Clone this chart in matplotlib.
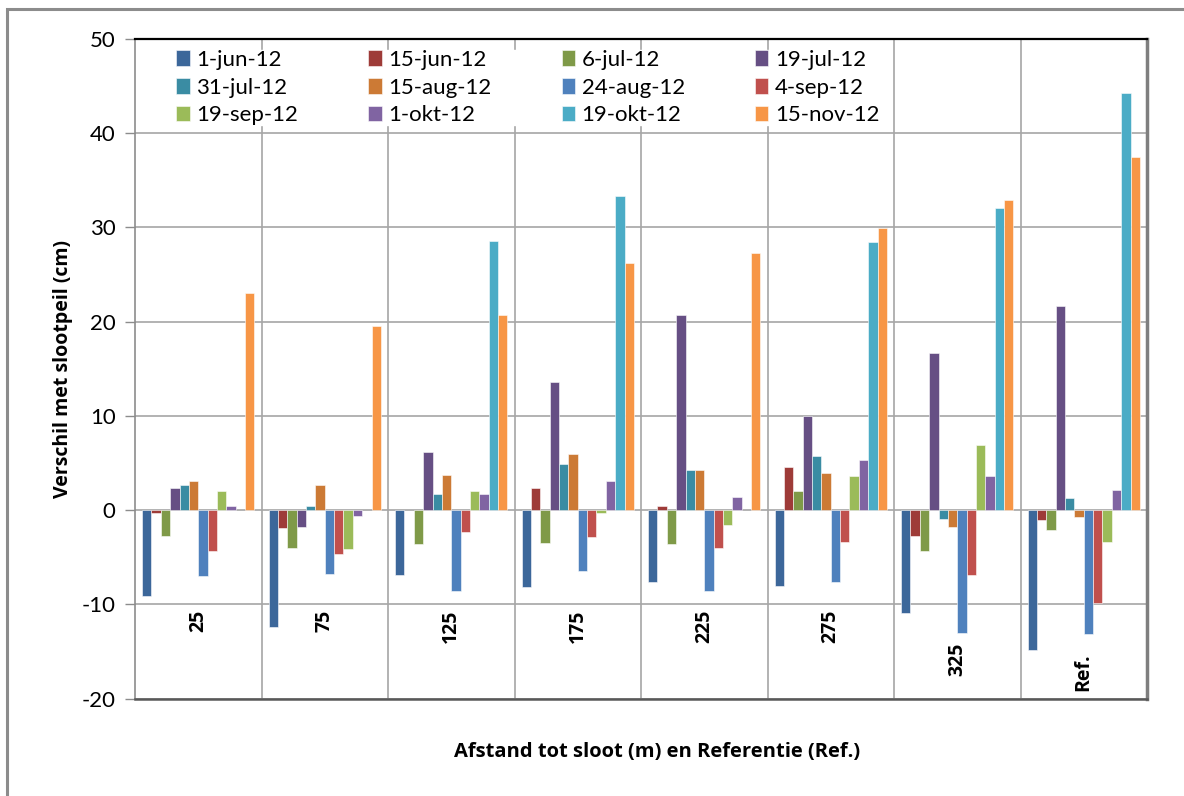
import numpy as np
import matplotlib
matplotlib.use("Agg")
from matplotlib import pyplot as plt
from matplotlib.patches import Rectangle

plt.rcParams['font.family'] = ['Lato', 'DejaVu Sans']
plt.rcParams['axes.unicode_minus'] = False

categories = ['25', '75', '125', '175', '225', '275', '325', 'Ref.']
dates = ['1-jun-12', '15-jun-12', '6-jul-12', '19-jul-12',
         '31-jul-12', '15-aug-12', '24-aug-12', '4-sep-12',
         '19-sep-12', '1-okt-12', '19-okt-12', '15-nov-12']

# verschil met slootpeil (cm) per meetdatum, per afstand
jun01 = [-9.1, -12.4, -6.9, -8.2, -7.6, -8.0, -10.9, -14.8]
jun15 = [-0.3, -1.9, np.nan, 2.4, 0.4, 4.6, -2.7, -1.0]
jul06 = [-2.7, -4.0, -3.6, -3.5, -3.6, 2.0, -4.3, -2.1]
jul19 = [2.3, -1.8, 6.2, 13.6, 20.7, 10.0, 16.7, 21.7]
jul31 = [2.7, 0.4, 1.7, 4.9, 4.3, 5.7, -0.9, 1.3]
aug15 = [3.1, 2.7, 3.7, 6.0, 4.3, 3.9, -1.8, -0.7]
aug24 = [-7.0, -6.8, -8.6, -6.5, -8.6, -7.6, -13.0, -13.1]
sep04 = [-4.3, -4.6, -2.3, -2.9, -4.0, -3.4, -6.9, -9.8]
sep19 = [2.0, -4.1, 2.0, -0.3, -1.6, 3.6, 6.9, -3.4]
okt01 = [0.4, -0.6, 1.7, 3.1, 1.4, 5.3, 3.6, 2.1]
okt19 = [np.nan, np.nan, 28.5, 33.3, np.nan, 28.4, 32.0, 44.2]
nov15 = [23.0, 19.5, 20.7, 26.2, 27.3, 29.9, 32.9, 37.4]

series = [jun01, jun15, jul06, jul19, jul31, aug15,
          aug24, sep04, sep19, okt01, okt19, nov15]
colors = ['#3C679A', '#9E3B38', '#7F9A48', '#664F84', '#3A8CA3', '#CC7A35',
          '#4F81BD', '#C0504D', '#9BBB59', '#8064A2', '#4BACC6', '#F79646']

# hoogte van de categorielabels (bovenkant, in cm op de y-as)
label_top = [-10.6, -10.6, -10.6, -10.6, -10.6, -10.6, -14.1, -15.2]

bold_font = ['Open Sans', 'DejaVu Sans']

fig = plt.figure(figsize=(11.84, 7.96), dpi=100)
ax = fig.add_axes([135 / 1184, 1 - 698.7 / 796, 1012 / 1184, 660 / 796])

n = len(series)
w = 1 / (n + 1.5)
x = np.arange(len(categories))
handles = []
for i, (vals, c) in enumerate(zip(series, colors)):
    pos = x - 0.5 + 0.75 * w + (i + 0.5) * w
    b = ax.bar(pos, vals, width=w, color=c, edgecolor=(1, 1, 1, 0.55),
               linewidth=0.7, label=dates[i], zorder=3)
    handles.append(b)

ax.set_xlim(-0.5, len(categories) - 0.5)
ax.set_ylim(-20, 50)
ax.set_yticks(np.arange(-20, 51, 10))
ax.set_xticks([])
ax.grid(axis='y', color='#A6A6A6', linewidth=1.2, zorder=0)
for b in np.arange(0.5, len(categories) - 0.5, 1):
    ax.axvline(b, color='#A6A6A6', linewidth=1.2, zorder=0)

ax.tick_params(axis='y', length=7, width=1, color='#8C8C8C', labelsize=16, pad=7)
ax.spines['left'].set_color('#8C8C8C')
ax.spines['left'].set_linewidth(1.2)
ax.spines['top'].set_color('black')
ax.spines['top'].set_linewidth(1.6)
ax.spines['right'].set_color('#7F7F7F')
ax.spines['right'].set_linewidth(2.5)
ax.spines['bottom'].set_color('#595959')
ax.spines['bottom'].set_linewidth(1.8)

for xi, lab, yt in zip(x, categories, label_top):
    ax.text(xi, yt, lab, rotation=90, ha='center', va='top',
            fontsize=14, fontweight='bold', family=bold_font)

ax.set_ylabel('Verschil met slootpeil (cm)', fontsize=14, fontweight='bold',
              family=bold_font, labelpad=6)
fig.text(657 / 1184, 1 - 752 / 796, 'Afstand tot sloot (m) en Referentie (Ref.)',
         ha='center', va='center', fontsize=14.5, fontweight='bold',
         family=bold_font)

# legenda rij voor rij vullen (matplotlib vult kolom voor kolom)
order = [0, 4, 8, 1, 5, 9, 2, 6, 10, 3, 7, 11]
leg = ax.legend([handles[k] for k in order], [dates[k] for k in order],
                ncol=4, loc='upper left', bbox_to_anchor=(0.03, 1.0),
                frameon=True, fancybox=False, framealpha=1, edgecolor='white',
                fontsize=16, handlelength=0.6, handleheight=0.7,
                handletextpad=0.3, columnspacing=3.15, labelspacing=0.35,
                borderpad=0.0)
leg.set_zorder(5)

# rand van het grafiekgebied
fig.add_artist(Rectangle((7 / 1184, -0.5), 2, 1.5 - 9 / 796,
                         transform=fig.transFigure, fill=False,
                         edgecolor='#8C8C8C', linewidth=2.2))

fig.savefig('out.png', dpi=100)
